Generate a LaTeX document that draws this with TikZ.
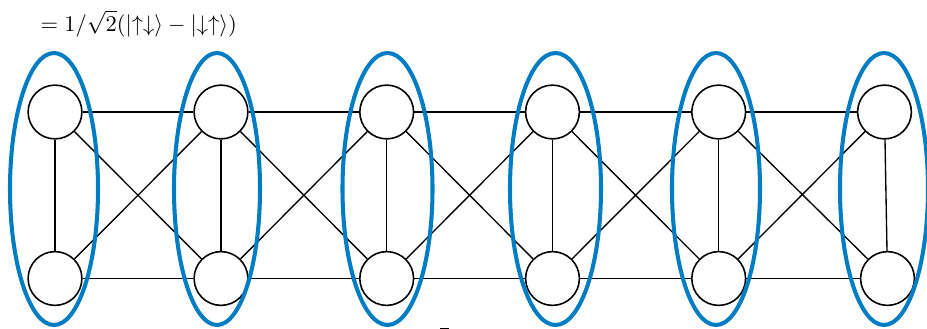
\documentclass[tikz,border=0pt]{standalone}
\usepackage{amsmath}
\definecolor{ringblue}{RGB}{0,124,194}
\newcommand{\upar}{\mathord{\uparrow}}
\newcommand{\dnar}{\mathord{\downarrow}}
\begin{document}
\begin{tikzpicture}[x=0.4444pt,y=-0.4444pt,
  spin/.style={circle,draw,line width=0.7pt,fill=white,minimum size=23.9pt,inner sep=0pt},
  bond/.style={line width=0.6pt},
  ring/.style={draw=ringblue,line width=1.8pt}]
\useasboundingbox (0,0) rectangle (927,329);
\node[anchor=base west,inner sep=0pt] (txt) at (34,31) {${}=1/\sqrt{2}(|\upar\dnar\rangle-|\dnar\upar\rangle)$};
% nodes
\node[spin] (t1) at (55,112) {};
\node[spin] (t2) at (221,112) {};
\node[spin] (t3) at (386.7,112) {};
\node[spin] (t4) at (552.5,112) {};
\node[spin] (t5) at (718.7,112) {};
\node[spin] (t6) at (884.5,112) {};
\node[spin] (b1) at (55,278.5) {};
\node[spin] (b2) at (221,278.5) {};
\node[spin] (b3) at (386.7,278.5) {};
\node[spin] (b4) at (552.5,278.5) {};
\node[spin] (b5) at (718.7,278.5) {};
\node[spin] (b6) at (887.5,278.5) {};
% bonds
\foreach \i in {1,...,6}{\draw[bond] (t\i) -- (b\i);}
\foreach \i/\j in {1/2,2/3,3/4,4/5,5/6}{
  \draw[bond] (t\i) -- (t\j);
  \draw[bond] (b\i) -- (b\j);
  \draw[bond] (t\i) -- (b\j);
  \draw[bond] (b\i) -- (t\j);
}
% rings
\draw[ring] (54,189) ellipse [x radius=44,y radius=136];
\draw[ring] (217,189) ellipse [x radius=43,y radius=136];
\draw[ring] (387.5,189) ellipse [x radius=45,y radius=136];
\draw[ring] (555.5,189) ellipse [x radius=45.5,y radius=136];
\draw[ring] (716,189) ellipse [x radius=44,y radius=136];
\draw[ring] (884,189) ellipse [x radius=44,y radius=136];
\fill (440,327.6) rectangle (449,329);
\end{tikzpicture}
\end{document}
